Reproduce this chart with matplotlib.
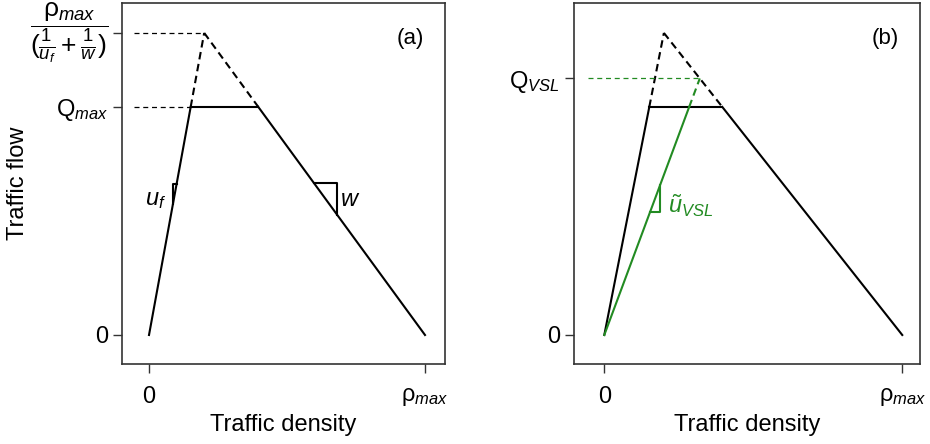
import numpy as np
import matplotlib
matplotlib.use('Agg')
import matplotlib.pyplot as plt

plt.rcParams['font.family'] = ['Liberation Sans', 'DejaVu Sans']
plt.rcParams['mathtext.fontset'] = 'custom'
plt.rcParams['mathtext.rm'] = 'Liberation Sans'
plt.rcParams['mathtext.it'] = 'Liberation Sans:italic'
plt.rcParams['mathtext.bf'] = 'Liberation Sans:bold'

# fundamental diagram parameters (rho_max scaled to 1)
rho_max = 1.0
u_f = 5.0        # free-flow speed
w = 1.25         # congestion wave speed
q_max = 0.755    # capacity
u_vsl = 2.65     # speed under variable speed limit

# slope triangles: x-extent of each leg
tri_uf_x = [0.087, 0.100]
tri_w_x = [0.597, 0.681]
tri_vsl_x = [0.154, 0.188]

green = '#228B22'
lw = 1.5
dash = (0, (3.6, 2.2))

# derived points
rho_c = rho_max * w / (u_f + w)
q_peak = u_f * rho_c
rho_l = q_max / u_f
rho_r = rho_max - q_max / w
rho_v = rho_max * w / (u_vsl + w)
q_vsl = u_vsl * rho_v
rho_lv = q_max / u_vsl

fig = plt.figure(figsize=(9.3, 4.44), dpi=100)
axa = fig.add_axes([0.1312, 0.1802, 0.3473, 0.8130])
axb = fig.add_axes([0.6172, 0.1802, 0.3720, 0.8130])


def congestion(ax):
    ax.plot([0, rho_l], [0, q_max], color='k', lw=lw)
    ax.plot([rho_l, rho_r], [q_max, q_max], color='k', lw=lw)
    ax.plot([rho_r, rho_max], [q_max, 0], color='k', lw=lw)
    ax.plot([rho_l, rho_c], [q_max, q_peak], color='k', lw=lw, ls=dash)
    ax.plot([rho_c, rho_r], [q_peak, q_max], color='k', lw=lw, ls=dash)


def style(ax, xlim):
    ax.set_xlim(*xlim)
    ax.set_ylim(-0.096, 1.099)
    for s in ax.spines.values():
        s.set_color('#333333')
        s.set_linewidth(1.2)
    ax.tick_params(direction='out', length=6.5, width=1.0, color='#333333',
                   labelsize=17)
    ax.tick_params(axis='x', pad=9)
    ax.tick_params(axis='y', pad=3.5)
    ax.set_xticks([0, rho_max])
    ax.set_xticklabels(['0', r'$\mathrm{\rho}_{max}$'])
    ax.set_xlabel('Traffic density', fontsize=17, labelpad=5)


# panel (a)
congestion(axa)
axa.plot([-0.054, rho_c], [q_peak, q_peak], color='k', lw=0.9, ls=(0, (4, 3)))
axa.plot([-0.054, rho_l], [q_max, q_max], color='k', lw=0.9, ls=(0, (4, 3)))
axa.plot([tri_uf_x[0], tri_uf_x[0], tri_uf_x[1]],
         [u_f * tri_uf_x[0], u_f * tri_uf_x[1], u_f * tri_uf_x[1]],
         color='k', lw=lw)
axa.plot([tri_w_x[0], tri_w_x[1], tri_w_x[1]],
         [w * (rho_max - tri_w_x[0]), w * (rho_max - tri_w_x[0]),
          w * (rho_max - tri_w_x[1])], color='k', lw=lw)
axa.text(0.025, 0.447, r'$u_f$', fontsize=17, ha='center', va='center')
axa.text(0.728, 0.447, r'$w$', fontsize=17, ha='center', va='center')
axa.text(0.946, 0.983, '(a)', fontsize=16, ha='center', va='center')
style(axa, (-0.0978, 1.0725))
axa.set_yticks([0, q_max, q_peak])
axa.set_yticklabels(['0', r'$\mathrm{Q}_{max}$',
                     r'$\dfrac{\mathrm{\rho}_{max}}{(\frac{1}{u_f}+\frac{1}{w})}$'])
frac_label = axa.get_yticklabels()[2]
frac_label.set_fontsize(19)
frac_label.set_va('center')
fig.text(18 / 930, 1 - 183 / 444, 'Traffic flow', fontsize=17, rotation=90,
         ha='center', va='center')

# panel (b)
congestion(axb)
axb.plot([0, rho_lv], [0, q_max], color=green, lw=lw)
axb.plot([rho_lv, rho_v], [q_max, q_vsl], color=green, lw=lw, ls=dash)
axb.plot([-0.054, rho_v], [q_vsl, q_vsl], color=green, lw=0.9, ls=(0, (4, 3)))
axb.plot([tri_vsl_x[0], tri_vsl_x[1], tri_vsl_x[1]],
         [u_vsl * tri_vsl_x[0], u_vsl * tri_vsl_x[0], u_vsl * tri_vsl_x[1]],
         color=green, lw=lw)
axb.text(0.215, 0.43, r'$\tilde{u}_{VSL}$', fontsize=17, color=green,
         ha='left', va='center')
axb.text(0.943, 0.983, '(b)', fontsize=16, ha='center', va='center')
style(axb, (-0.1017, 1.0594))
axb.set_yticks([0, q_vsl])
axb.set_yticklabels(['0', r'$\mathrm{Q}_{VSL}$'])

fig.savefig('out.png', dpi=100)
